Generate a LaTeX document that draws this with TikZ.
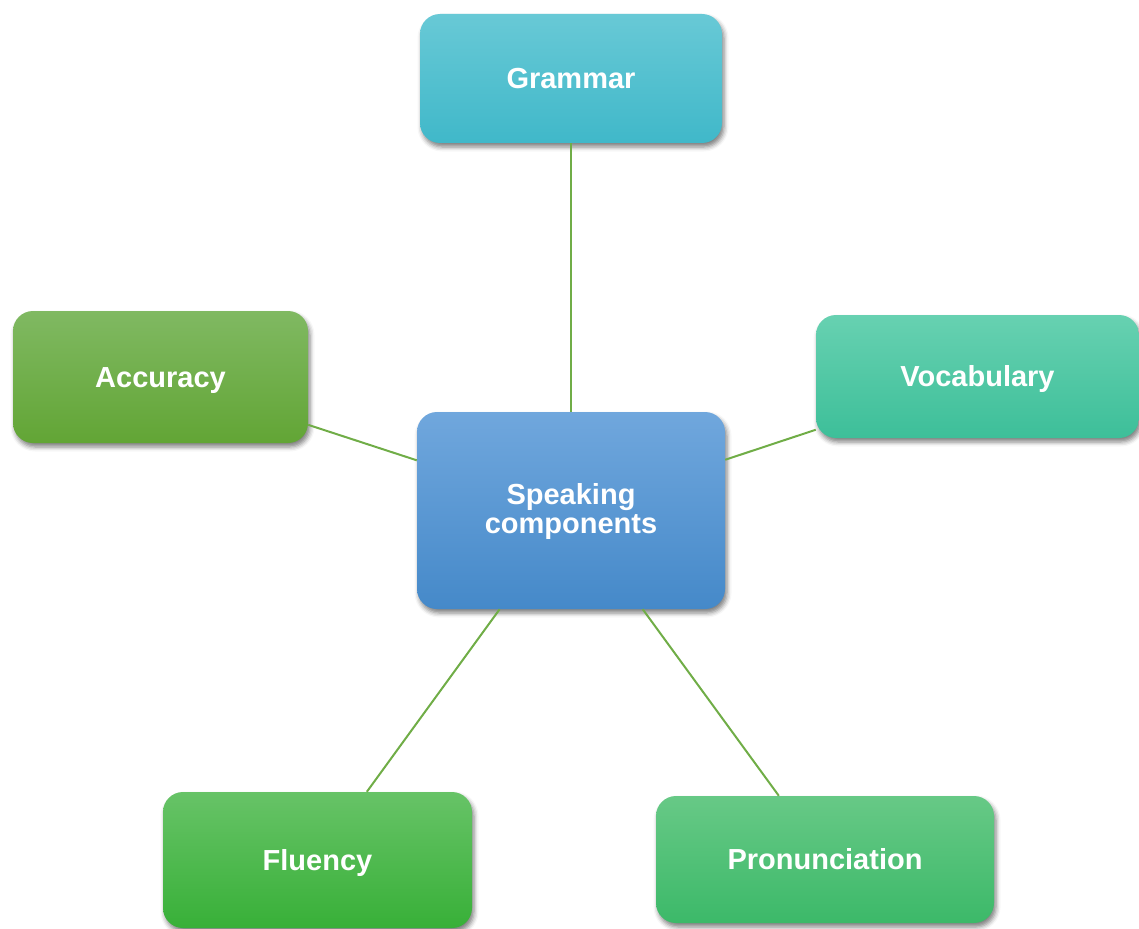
\documentclass[tikz,border=0pt]{standalone}
\usepackage{fontspec}
\setmainfont{Liberation Sans}
\usetikzlibrary{shadows.blur}

% palette
\definecolor{linkgreen}{HTML}{70AD47}
\definecolor{gramTop}{HTML}{68C9D6}\definecolor{gramBot}{HTML}{40B8C9}
\definecolor{hubTop}{HTML}{70A7DD}\definecolor{hubBot}{HTML}{4589C9}
\definecolor{accTop}{HTML}{80B962}\definecolor{accBot}{HTML}{62A535}
\definecolor{vocTop}{HTML}{67D1B1}\definecolor{vocBot}{HTML}{3DBF99}
\definecolor{fluTop}{HTML}{67C367}\definecolor{fluBot}{HTML}{38B038}
\definecolor{proTop}{HTML}{67C986}\definecolor{proBot}{HTML}{3CB969}

\tikzset{
  topicbox/.style args={#1/#2/#3/#4}{
    rounded corners=20pt, minimum width=#1, minimum height=#2,
    top color=#3, bottom color=#4, draw=none,
    text=white, font=\bfseries\fontsize{29}{29}\selectfont,
    align=center, inner sep=0pt,
    text height=20.8pt, text depth=0pt,
    blur shadow={shadow xshift=2pt, shadow yshift=-4pt,
                 shadow blur radius=4.5pt, shadow opacity=50}},
  link/.style={draw=linkgreen, line width=2pt}
}

\begin{document}
\begin{tikzpicture}[x=1pt, y=-1pt]
  \useasboundingbox (0,0) rectangle (1139,928);

  % two-line label: its box sits on the last baseline
  \node[topicbox=308pt/197pt/hubTop/hubBot, text height=45.6pt] (hub) at (571,510.5) {Speaking\\components};
  \node[topicbox=302pt/129pt/gramTop/gramBot] (gram) at (571,78.5) {Grammar};
  \node[topicbox=295pt/132pt/accTop/accBot] (acc) at (160.5,377) {Accuracy};
  \node[topicbox=323pt/123pt/vocTop/vocBot] (voc) at (977.5,376.5) {Vocabulary};
  \node[topicbox=309pt/136pt/fluTop/fluBot] (flu) at (317.5,860) {Fluency};
  \node[topicbox=338pt/127pt/proTop/proBot] (pro) at (825,859.5) {Pronunciation};

  \draw[link] (hub) -- (gram);
  \draw[link] (hub) -- (acc);
  \draw[link] (hub) -- (voc);
  \draw[link] (hub) -- (flu);
  \draw[link] (hub) -- (pro);
\end{tikzpicture}
\end{document}
